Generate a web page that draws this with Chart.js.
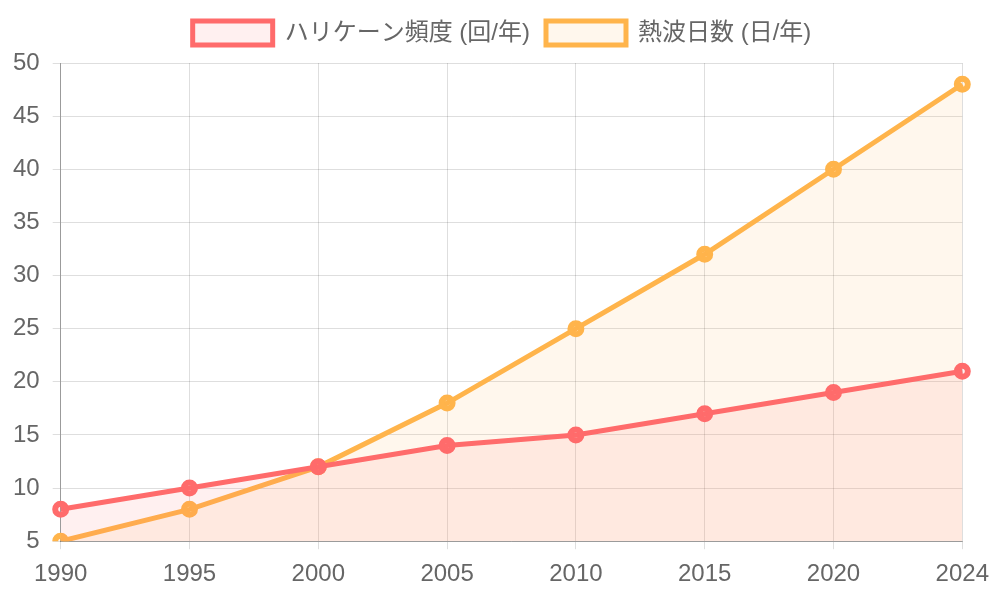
<!DOCTYPE html>
<html lang="ja">
<head>
<meta charset="UTF-8">
<title>ハリケーン頻度と熱波日数</title>
<script src="https://cdn.jsdelivr.net/npm/chart.js@4"></script>
<style>
    html, body { margin: 0; padding: 0; background: #fff; }
    #wrap { width: 1000px; height: 600px; }
</style>
</head>
<body>
<div id="wrap"><canvas id="climateChart"></canvas></div>
<script>
// 年 (X軸)
const years = ['1990', '1995', '2000', '2005', '2010', '2015', '2020', '2024'];
// ハリケーン頻度 (回/年)
const hurricaneFreq = [8, 10, 12, 14, 15, 17, 19, 21];
// 熱波日数 (日/年)
const heatwaveDays = [5, 8, 12, 18, 25, 32, 40, 48];

const red = 'rgb(255, 107, 107)';
const redFill = 'rgba(255, 107, 107, 0.1)';
const orange = 'rgb(255, 180, 75)';
const orangeFill = 'rgba(255, 180, 75, 0.1)';

Chart.defaults.font.family = '"Liberation Sans", Arial, "Noto Sans CJK JP", sans-serif';
Chart.defaults.font.size = 24;
Chart.defaults.color = '#666';

// 凡例とグラフの間に少し余白を足す
const legendGap = {
    id: 'legendGap',
    beforeInit(chart) {
        const fit = chart.legend.fit;
        chart.legend.fit = function () {
            fit.bind(chart.legend)();
            this.height += 8;
        };
    }
};

const ctx = document.getElementById('climateChart').getContext('2d');
new Chart(ctx, {
    type: 'line',
    data: {
        labels: years,
        datasets: [{
            label: 'ハリケーン頻度 (回/年)',
            data: hurricaneFreq,
            borderColor: red,
            backgroundColor: redFill,
            pointBackgroundColor: redFill,
            borderWidth: 5,
            pointRadius: 5.5,
            pointBorderWidth: 6,
            fill: 'origin',
            tension: 0
        }, {
            label: '熱波日数 (日/年)',
            data: heatwaveDays,
            borderColor: orange,
            backgroundColor: orangeFill,
            pointBackgroundColor: orangeFill,
            borderWidth: 5,
            pointRadius: 5.5,
            pointBorderWidth: 6,
            fill: 'origin',
            tension: 0
        }]
    },
    options: {
        responsive: true,
        maintainAspectRatio: false,
        animation: false,
        layout: { padding: { top: 5, bottom: 0, left: 0, right: -4 } },
        plugins: {
            legend: {
                position: 'top',
                labels: { boxWidth: 80, padding: 16, font: { size: 24 } }
            }
        },
        scales: {
            x: {
                border: { color: 'rgba(0, 0, 0, 0.3)' },
                grid: { color: 'rgba(0, 0, 0, 0.13)' },
                ticks: { padding: 11, font: { size: 24 } }
            },
            y: {
                min: 5,
                max: 50,
                border: { color: 'rgba(0, 0, 0, 0.3)' },
                grid: { color: 'rgba(0, 0, 0, 0.13)' },
                ticks: { stepSize: 5, padding: 13, font: { size: 24 } }
            }
        }
    },
    plugins: [legendGap]
});
</script>
</body>
</html>
